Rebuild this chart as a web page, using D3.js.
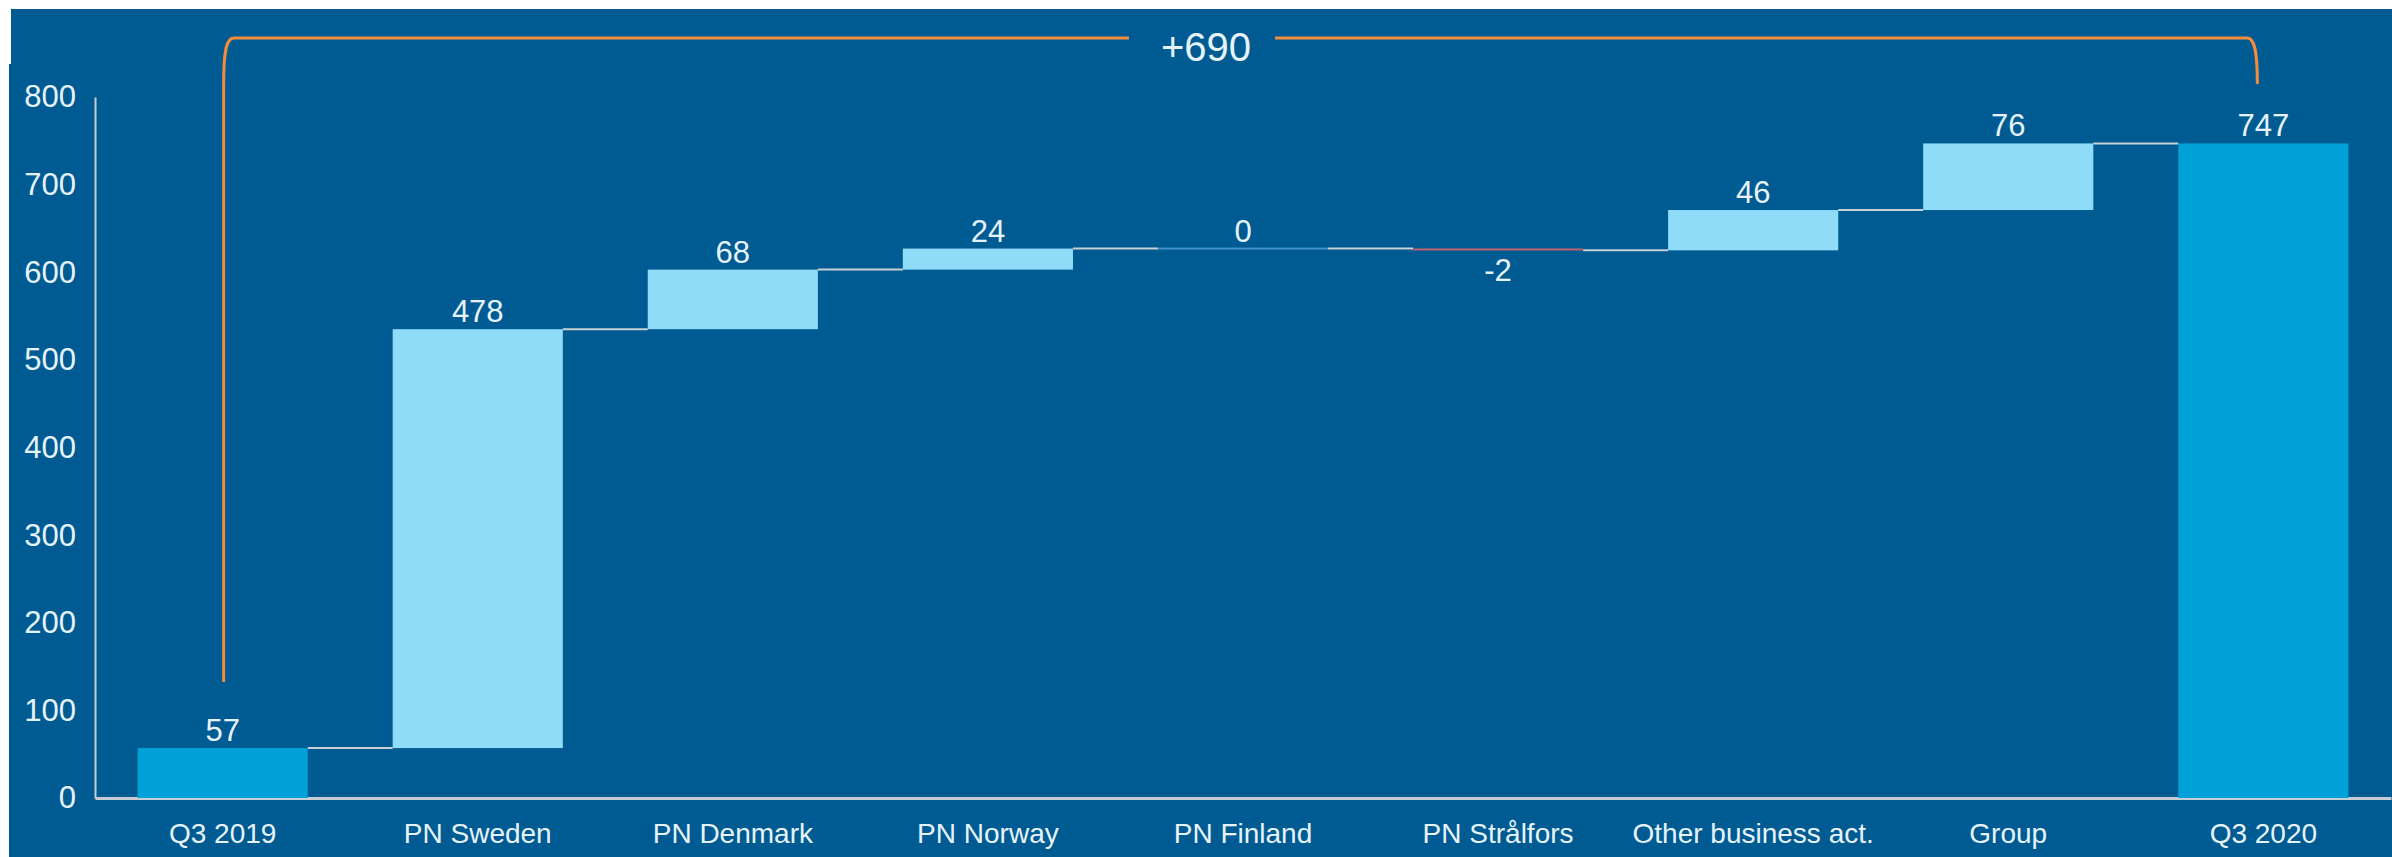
<!DOCTYPE html>
<html>
<head>
<meta charset="utf-8">
<script src="https://cdn.jsdelivr.net/npm/d3@7"></script>
<style>
  body { margin: 0; background: #ffffff; }
  text { font-family: "Liberation Sans", Arial, sans-serif; }
</style>
</head>
<body>
<script>
// Bridge chart data
var categories = ["Q3 2019", "PN Sweden", "PN Denmark", "PN Norway", "PN Finland",
                  "PN Strålfors", "Other business act.", "Group", "Q3 2020"];
var values = [57, 478, 68, 24, 0, -2, 46, 76, 747];
var isTotal = [true, false, false, false, false, false, false, false, true];
var yTicks = [0, 100, 200, 300, 400, 500, 600, 700, 800];
var bridgeLabel = "+690";

var width = 2392, height = 857;
var margins = { top: 97, right: 1, bottom: 59, left: 95 };

var svg = d3.select("body")
  .append("svg")
  .attr("width", width)
  .attr("height", height);

// Blue panel
svg.append("rect")
  .attr("x", 11).attr("y", 9)
  .attr("width", width - 11).attr("height", height - 9)
  .attr("fill", "#005b93");
svg.append("rect")
  .attr("x", 9).attr("y", 64)
  .attr("width", 4).attr("height", height - 64)
  .attr("fill", "#005b93");

// Scales
var x_Scale = d3.scaleBand()
  .domain(categories)
  .range([margins.left, width - margins.right])
  .paddingInner(0.333)
  .paddingOuter(0.167);

var y_Scale = d3.scaleLinear()
  .domain([0, 800])
  .range([height - margins.bottom, margins.top]);

// Work out start and end of each step
var bars = [];
var running = 0;
categories.forEach(function(c, i) {
  var start, end;
  if (isTotal[i]) { start = 0; end = values[i]; running = values[i]; }
  else { start = running; end = running + values[i]; running = end; }
  bars.push({ cat: c, value: values[i], start: start, end: end, total: isTotal[i] });
});

// Axes
var y_Axis = svg.append("g")
  .attr("transform", `translate(${margins.left}, 0)`)
  .call(d3.axisLeft(y_Scale).tickValues(yTicks).tickSize(0).tickPadding(19));
y_Axis.select(".domain").attr("stroke", "#c5ccd3").attr("stroke-width", 2);
y_Axis.selectAll("text")
  .attr("fill", "#e6f3fa")
  .style("font-size", "31px");

var x_Axis = svg.append("g")
  .attr("transform", `translate(0, ${y_Scale(0)})`)
  .call(d3.axisBottom(x_Scale).tickSize(0).tickPadding(25));
x_Axis.select(".domain").attr("stroke", "#c5ccd3").attr("stroke-width", 3);
x_Axis.selectAll("text")
  .attr("fill", "#e6f3fa")
  .style("font-size", "28px");

// Connector lines
svg.append("g").selectAll("line")
  .data(bars.slice(0, -1))
  .enter().append("line")
  .attr("x1", function(d) { return x_Scale(d.cat) + x_Scale.bandwidth(); })
  .attr("x2", function(d, i) { return x_Scale(categories[i + 1]); })
  .attr("y1", function(d) { return y_Scale(d.end); })
  .attr("y2", function(d) { return y_Scale(d.end); })
  .attr("stroke", "#c9d0d6")
  .attr("stroke-width", 2);

// Bars
function barColor(d) {
  if (d.total) return "#00a0d8";
  if (d.value > 0) return "#8fdcf8";
  if (d.value < 0) return "#c0606e";
  return "#3f8fc8";
}
svg.append("g").selectAll("rect")
  .data(bars)
  .enter().append("rect")
  .attr("x", function(d) { return x_Scale(d.cat); })
  .attr("width", x_Scale.bandwidth())
  .attr("y", function(d) {
    var top = y_Scale(Math.max(d.start, d.end));
    var h = Math.abs(y_Scale(d.start) - y_Scale(d.end));
    return h < 2 ? top - (2 - h) / 2 : top;
  })
  .attr("height", function(d) {
    return Math.max(2, Math.abs(y_Scale(d.start) - y_Scale(d.end)));
  })
  .attr("fill", barColor);

// Value labels
svg.append("g").selectAll("text")
  .data(bars)
  .enter().append("text")
  .attr("x", function(d) { return x_Scale(d.cat) + x_Scale.bandwidth() / 2; })
  .attr("y", function(d) {
    if (d.value < 0) return y_Scale(d.start) + 32;
    return y_Scale(Math.max(d.start, d.end)) - 7;
  })
  .attr("text-anchor", "middle")
  .attr("fill", "#e6f3fa")
  .style("font-size", "31px")
  .text(function(d) { return d.value; });

// Orange bracket over the whole bridge
var bx1 = x_Scale(categories[0]) + x_Scale.bandwidth() / 2 + 1;
var bx2 = x_Scale(categories[categories.length - 1]) + x_Scale.bandwidth() / 2 - 6;
var by = 38;
var byLeft = y_Scale(values[0]) - 66;
var byRight = 84;
var gapL = 1129, gapR = 1275;

var bracket = d3.path();
bracket.moveTo(bx1, byLeft);
bracket.lineTo(bx1, by + 45);
bracket.bezierCurveTo(bx1, by + 12, bx1 + 3, by, bx1 + 10, by);
bracket.lineTo(gapL, by);
bracket.moveTo(gapR, by);
bracket.lineTo(bx2 - 10, by);
bracket.bezierCurveTo(bx2 - 3, by, bx2, by + 12, bx2, byRight);

svg.append("path")
  .attr("d", bracket.toString())
  .attr("fill", "none")
  .attr("stroke", "#f58b3c")
  .attr("stroke-width", 3);

svg.append("text")
  .attr("x", (gapL + gapR) / 2 + 4)
  .attr("y", 61)
  .attr("text-anchor", "middle")
  .attr("fill", "#e6f3fa")
  .style("font-size", "40px")
  .text(bridgeLabel);
</script>
</body>
</html>
